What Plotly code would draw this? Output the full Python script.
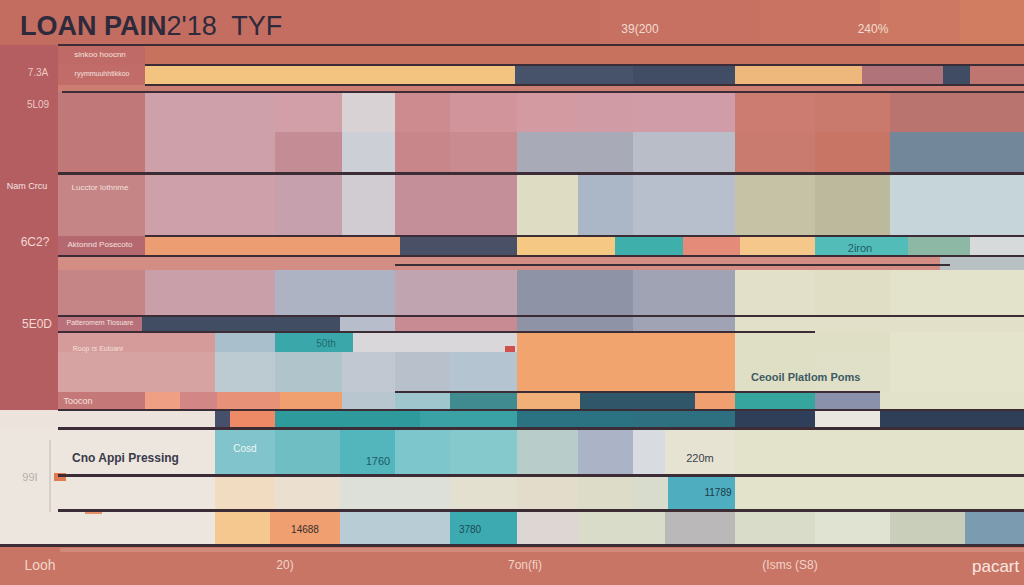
import plotly.graph_objects as go

# ---------------- data: horizontal bands of segments (x0, x1, colour) ----------------
band_y = [
    (0, 45), (45, 65), (65, 85), (85, 92), (92, 132), (132, 173), (173, 236),
    (236, 256), (256, 270), (270, 316), (316, 332), (332, 352), (352, 392),
    (392, 410), (410, 428), (428, 475), (475, 510), (510, 545), (545, 585),
]
band_segments = [
    [(0, 200, '#c36d61'), (200, 400, '#c46e61'), (400, 600, '#c56f61'), (600, 760, '#c77162'),
     (760, 880, '#c97462'), (880, 960, '#cc7862'), (960, 1024, '#d07d62')],
    [(0, 58, '#b45e62'), (58, 145, '#c06a68'), (145, 1024, '#c6725f')],
    [(0, 58, '#b45e62'), (58, 145, '#c26c6a'), (145, 515, '#f3c47f'), (515, 633, '#47526b'),
     (633, 735, '#414c65'), (735, 862, '#eeb77b'), (862, 943, '#b1737a'), (943, 970, '#3f4c63'),
     (970, 1024, '#c07670')],
    [(0, 58, '#b45e62'), (58, 1024, '#cc7e72')],
    [(0, 58, '#b45e62'), (58, 145, '#c07879'), (145, 275, '#cda0aa'), (275, 342, '#d29ea7'),
     (342, 395, '#d8d2d4'), (395, 450, '#ce8b8f'), (450, 517, '#d1949a'), (517, 578, '#d49aa2'),
     (578, 633, '#d19ba5'), (633, 735, '#cf9ca8'), (735, 815, '#cd7c72'), (815, 890, '#c97a6d'),
     (890, 1024, '#b97470')],
    [(0, 58, '#b45e62'), (58, 145, '#c07879'), (145, 275, '#cda0aa'), (275, 342, '#c48d95'),
     (342, 395, '#ccd0d6'), (395, 450, '#c8868b'), (450, 517, '#c98a90'), (517, 633, '#a8aab7'),
     (633, 735, '#b9bdc8'), (735, 815, '#c97b70'), (815, 890, '#c97565'), (890, 1024, '#728799')],
    [(0, 58, '#b45e62'), (58, 145, '#c58486'), (145, 275, '#cea0aa'), (275, 342, '#c7a0ad'),
     (342, 395, '#d0ccd2'), (395, 517, '#c48f98'), (517, 578, '#dedcc2'), (578, 633, '#abb6c6'),
     (633, 735, '#b8bfcc'), (735, 815, '#c6c2a5'), (815, 890, '#bdb99d'), (890, 1024, '#c5d5da')],
    [(0, 58, '#b45e62'), (58, 145, '#b56870'), (145, 400, '#ec9e72'), (400, 517, '#4a5066'),
     (517, 615, '#f5c984'), (615, 683, '#3eafab'), (683, 740, '#e48b7a'), (740, 815, '#f6c78a'),
     (815, 908, '#52bdb8'), (908, 970, '#8db8a6'), (970, 1024, '#d6dadb')],
    [(0, 58, '#b45e62'), (58, 940, '#d38d85'), (940, 1024, '#b8c0c4')],
    [(0, 58, '#b45e62'), (58, 145, '#c58587'), (145, 275, '#c9a0aa'), (275, 395, '#aeb3c3'),
     (395, 517, '#c0a5b1'), (517, 633, '#8e93a6'), (633, 735, '#9fa3b4'), (735, 815, '#e2e0c8'),
     (815, 890, '#e0dfc6'), (890, 1024, '#e3e2ca')],
    [(0, 58, '#b45e62'), (58, 142, '#b8707a'), (142, 340, '#414d63'), (340, 395, '#b8bdcc'),
     (395, 517, '#c98b93'), (517, 633, '#8e93a6'), (633, 735, '#9fa3b4'), (735, 1024, '#e2e0c8')],
    [(0, 58, '#b45e62'), (58, 215, '#d59b9b'), (215, 275, '#a9bfcc'), (275, 353, '#3aa8aa'),
     (353, 517, '#d9d7d9'), (517, 735, '#f2a46f'), (735, 890, '#dfdfc6'), (890, 1024, '#e4e4cc')],
    [(0, 58, '#b45e62'), (58, 215, '#d6a2a2'), (215, 275, '#bccad2'), (275, 342, '#b0c4cc'),
     (342, 395, '#c2c8d2'), (395, 450, '#b8c0cc'), (450, 517, '#b4c4d0'), (517, 735, '#f2a46f'),
     (735, 815, '#dfdfc6'), (815, 890, '#e0e0c8'), (890, 1024, '#e4e4cd')],
    [(0, 58, '#b45e62'), (58, 145, '#c47878'), (145, 180, '#ee9f84'), (180, 217, '#d38686'),
     (217, 280, '#e69178'), (280, 342, '#f0a06e'), (342, 395, '#b8c6d0'), (395, 450, '#9ec6cc'),
     (450, 517, '#3f8b90'), (517, 580, '#f1b077'), (580, 695, '#2f5669'), (695, 735, '#f0a070'),
     (735, 815, '#36a59e'), (815, 880, '#8a91aa'), (880, 1024, '#e2e2ca')],
    [(0, 215, '#ece4dc'), (215, 230, '#46506a'), (230, 275, '#ee8a66'), (275, 420, '#2f9a9c'),
     (420, 517, '#3aa2a4'), (517, 633, '#2b7283'), (633, 735, '#2e6f80'), (735, 815, '#2f3f5a'),
     (815, 880, '#e9e7e0'), (880, 1024, '#2f3f58')],
    [(0, 215, '#ede6de'), (215, 275, '#82c4cc'), (275, 340, '#6fbec4'), (340, 395, '#52b6bc'),
     (395, 450, '#7dc6cc'), (450, 517, '#86c9cd'), (517, 578, '#b8ccc9'), (578, 633, '#aab4c6'),
     (633, 665, '#d8dbe0'), (665, 735, '#e6e3d3'), (735, 1024, '#e3e2cb')],
    [(0, 215, '#ede6de'), (215, 275, '#f1dcc2'), (275, 340, '#ebe0cf'), (340, 450, '#dde0d8'),
     (450, 517, '#e4e0d0'), (517, 578, '#e4dccb'), (578, 633, '#dcdcc8'), (633, 668, '#d8dccc'),
     (668, 735, '#4eaec0'), (735, 1024, '#e3e2cb')],
    [(0, 215, '#ede6de'), (215, 270, '#f5c890'), (270, 340, '#f0a070'), (340, 450, '#b7ccd5'),
     (450, 517, '#3caab0'), (517, 578, '#ddd6d2'), (578, 665, '#d9dcc9'), (665, 735, '#bab8b8'),
     (735, 815, '#d9dcc9'), (815, 890, '#e0e2d2'), (890, 965, '#c8ceba'), (965, 1024, '#7b9bb0')],
    [(0, 1024, '#c87566')],
]

# dark divider strokes: (y, x0, x1, thickness)
divider_rules = [
    (45, 58, 1024, 2.5), (65, 145, 1024, 2), (85, 145, 1024, 2.5), (92, 62, 1024, 2),
    (173, 58, 1024, 3), (236, 145, 1024, 2.5), (256, 58, 1024, 2.5), (265, 395, 950, 2),
    (316, 58, 1024, 2.5), (332, 58, 815, 2.5), (392, 395, 880, 2), (410, 58, 1024, 2),
    (428, 58, 1024, 3), (475, 58, 1024, 3), (510, 58, 1024, 3), (545, 0, 1024, 3),
]

# small accents (y0, y1, x0, x1, colour)
accents = [
    (548, 552, 60, 1024, '#d08a7a'), (473, 481, 54, 66, '#e07a50'), (509, 514, 85, 102, '#e8906a'),
    (346, 352, 505, 515, '#d05050'), (440, 512, 49, 51, '#d8cfc8'),
]

# text labels (x, y, text, size, colour)
labels = [
    (640, 30, '39(200', 12, '#f2dcd0'), (873, 30, '240%', 12, '#f2dcd0'),
    (38, 73, '7.3A', 10, '#ecc8c0'), (38, 105, '5L09', 10, '#ecc8c0'),
    (27, 187, 'Nam Crcu', 9, '#f5e4e0'), (35, 243, '6C2?', 12, '#f2d8d0'),
    (37, 325, '5E0D', 12, '#f2d8d0'), (30, 478, '99I', 11, '#b8aeae'),
    (100, 55, 'sinkoo hoocnn', 8, '#f4e0dc'), (102, 74, 'ryymmuuhhtikkoo', 7, '#f4e0dc'),
    (100, 188, 'Lucctor lothnme', 8, '#f4e0dc'), (100, 245, 'Aktonnd Posecoto', 8, '#f4e0dc'),
    (100, 323, 'Patteromem Tiosuare', 7, '#f4e0dc'), (98, 349, 'Roop rs Euloanr', 7, '#f4e0dc'),
    (78, 402, 'Toocon', 9, '#f4e0dc'),
    (245, 449, 'Cosd', 10, '#eef6f6'), (326, 344, '50th', 10, '#1f6a70'),
    (378, 462, '1760', 11, '#1e5a66'), (700, 459, '220m', 11, '#40404a'),
    (718, 493, '11789', 10, '#1e3a4a'), (305, 530, '14688', 10, '#3a2e2e'),
    (470, 530, '3780', 10, '#1e4a56'), (860, 249, '2iron', 11, '#1f5e66'),
    (40, 566, 'Looh', 14, '#f2d4c8'), (285, 566, '20)', 12, '#f2d4c8'),
    (525, 566, '7on(fi)', 12, '#f2d4c8'), (790, 566, '(Isms (S8)', 12, '#f2d4c8'),
]

bar_x0, bar_len, bar_mid, bar_h, bar_col = [], [], [], [], []
for (y0, y1), segs in zip(band_y, band_segments):
    for x0, x1, c in segs:
        bar_x0.append(x0); bar_len.append(x1 - x0)
        bar_mid.append((y0 + y1) / 2); bar_h.append(y1 - y0); bar_col.append(c)
for y0, y1, x0, x1, c in accents:
    bar_x0.append(x0); bar_len.append(x1 - x0)
    bar_mid.append((y0 + y1) / 2); bar_h.append(y1 - y0); bar_col.append(c)

fig = go.Figure()
fig.add_trace(go.Bar(
    orientation='h', base=bar_x0, x=bar_len, y=bar_mid, width=bar_h,
    marker=dict(color=bar_col, line=dict(width=0)), hoverinfo='skip', showlegend=False,
))
fig.add_trace(go.Bar(
    orientation='h', base=[r[1] for r in divider_rules], x=[r[2] - r[1] for r in divider_rules],
    y=[r[0] for r in divider_rules], width=[r[3] for r in divider_rules],
    marker=dict(color='#3b2c36', line=dict(width=0)), hoverinfo='skip', showlegend=False,
))
fig.add_trace(go.Scatter(
    x=[l[0] for l in labels], y=[l[1] for l in labels], text=[l[2] for l in labels],
    mode='text', textposition='middle center',
    textfont=dict(family='Liberation Sans', size=[l[3] for l in labels], color=[l[4] for l in labels]),
    hoverinfo='skip', showlegend=False,
))

fig.add_annotation(x=18, y=26, xref='x', yref='y', xanchor='left', yanchor='middle', showarrow=False,
                   text="<b>LOAN PAIN</b><span style='font-weight:300'>2'18  TYF</span>",
                   font=dict(family='Liberation Sans', size=27, color='#2e2a3c'))
fig.add_annotation(x=125, y=458, xref='x', yref='y', showarrow=False,
                   text='<b>Cno Appi Pressing</b>',
                   font=dict(family='Liberation Sans', size=12, color='#3a3a4a'))
fig.add_annotation(x=805, y=377, xref='x', yref='y', showarrow=False,
                   text='<b>Ceooil Platlom Poms</b>',
                   font=dict(family='Liberation Sans', size=11, color='#3e5a62'))
fig.add_annotation(x=1022, y=566, xref='x', yref='y', xanchor='right', showarrow=False,
                   text='pacart', font=dict(family='Liberation Sans', size=17, color='#fbe8e0'))

fig.update_layout(
    width=1024, height=585, autosize=False,
    margin=dict(l=0, r=0, t=0, b=0),
    paper_bgcolor='#c87566', plot_bgcolor='#c87566',
    barmode='overlay', bargap=0,
    xaxis=dict(range=[0, 1024], visible=False, fixedrange=True),
    yaxis=dict(range=[585, 0], visible=False, fixedrange=True),
    hovermode=False,
)
fig.write_html("out.html", config={'displayModeBar': False},
               post_script="document.body.style.margin='0';")
